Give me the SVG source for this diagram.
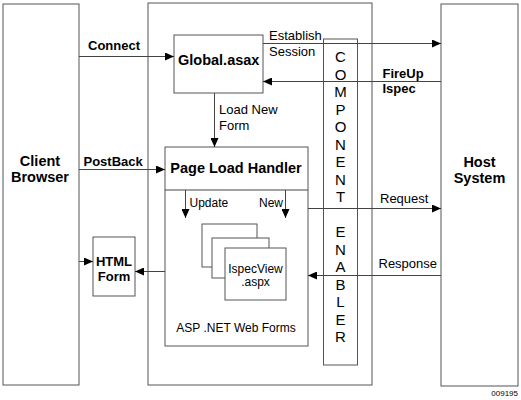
<svg xmlns="http://www.w3.org/2000/svg" width="521" height="400" viewBox="0 0 521 400">
<defs>
<style>
.box{fill:#fff;stroke:#555;stroke-width:1}
.ln{fill:none;stroke:#444;stroke-width:1}
.b{font-family:"Liberation Sans",Arial,sans-serif;font-weight:bold;font-size:13px;fill:#000}
.bl{font-family:"Liberation Sans",Arial,sans-serif;font-weight:bold;font-size:14.5px;fill:#000}
.r{font-family:"Liberation Sans",Arial,sans-serif;font-size:13px;fill:#000}
.s{font-family:"Liberation Sans",Arial,sans-serif;font-size:12px;fill:#000}
.v{font-family:"Liberation Sans",Arial,sans-serif;font-size:15px;fill:#000;text-anchor:middle}
.m{text-anchor:middle}
</style>
<marker id="ah" markerWidth="9" markerHeight="8" refX="9" refY="4" orient="auto" markerUnits="userSpaceOnUse">
<path d="M0,0 L9,4 L0,8 Z" fill="#000"/>
</marker>
</defs>
<rect width="521" height="400" fill="#fff"/>

<g id="client">
<rect class="box" x="3" y="4" width="76" height="381"/>
<text class="bl m" x="40" y="166">Client</text>
<text class="bl m" x="40" y="182">Browser</text>
</g>

<g id="server">
<rect class="box" x="148" y="3" width="224" height="382"/>
</g>

<g id="host">
<rect class="box" x="441" y="4" width="77" height="382"/>
<text class="bl m" x="479.5" y="166.5">Host</text>
<text class="bl m" x="479.5" y="182.5">System</text>
</g>

<g id="global">
<rect class="box" x="174" y="35" width="89" height="58"/>
<text class="bl" x="178" y="65">Global.asax</text>
</g>

<g id="enabler">
<rect class="box" x="323.5" y="39" width="34" height="326"/>
<text class="v" x="340.5" y="62">C</text>
<text class="v" x="340.5" y="79.5">O</text>
<text class="v" x="340.5" y="97">M</text>
<text class="v" x="340.5" y="114.5">P</text>
<text class="v" x="340.5" y="132">O</text>
<text class="v" x="340.5" y="149.5">N</text>
<text class="v" x="340.5" y="167">E</text>
<text class="v" x="340.5" y="184.5">N</text>
<text class="v" x="340.5" y="202">T</text>
<text class="v" x="340.5" y="237">E</text>
<text class="v" x="340.5" y="254.5">N</text>
<text class="v" x="340.5" y="272">A</text>
<text class="v" x="340.5" y="289.5">B</text>
<text class="v" x="340.5" y="307">L</text>
<text class="v" x="340.5" y="324.5">E</text>
<text class="v" x="340.5" y="342">R</text>
</g>

<g id="pageload">
<rect class="box" x="165" y="147" width="143" height="199"/>
<line class="ln" x1="165" y1="190" x2="308" y2="190"/>
<text class="bl m" x="236" y="172.5">Page Load Handler</text>
<text class="s" x="189.5" y="207">Update</text>
<text class="s" x="283" y="207" text-anchor="end">New</text>
<text class="s m" x="236" y="331.5">ASP .NET Web Forms</text>
</g>

<g id="ispecview">
<rect class="box" x="202" y="224" width="55" height="43"/>
<rect class="box" x="212" y="238" width="57" height="40"/>
<rect class="box" x="225" y="248" width="61" height="52"/>
<text class="s m" x="255.5" y="272.5">IspecView</text>
<text class="s m" x="255.5" y="286">.aspx</text>
</g>

<g id="htmlform">
<rect class="box" x="93" y="237" width="42" height="59"/>
<text class="b m" x="114" y="266">HTML</text>
<text class="b m" x="114" y="281">Form</text>
</g>

<g id="connectors">
<line class="ln" x1="79" y1="56.5" x2="174" y2="56.5" marker-end="url(#ah)"/>
<line class="ln" x1="79" y1="169.5" x2="165" y2="169.5" marker-end="url(#ah)"/>
<line class="ln" x1="214.5" y1="93" x2="214.5" y2="147" marker-end="url(#ah)"/>
<line class="ln" x1="263" y1="43.5" x2="441" y2="43.5" marker-end="url(#ah)"/>
<line class="ln" x1="441" y1="81.5" x2="263" y2="81.5" marker-end="url(#ah)"/>
<line class="ln" x1="308" y1="208.5" x2="441" y2="208.5" marker-end="url(#ah)"/>
<line class="ln" x1="441" y1="275.5" x2="308" y2="275.5" marker-end="url(#ah)"/>
<line class="ln" x1="165" y1="271.5" x2="135" y2="271.5" marker-end="url(#ah)"/>
<line class="ln" x1="79" y1="261.5" x2="93" y2="261.5" marker-end="url(#ah)"/>
<line class="ln" x1="185.5" y1="190" x2="185.5" y2="218" marker-end="url(#ah)"/>
<line class="ln" x1="285.5" y1="190" x2="285.5" y2="218" marker-end="url(#ah)"/>
</g>

<g id="labels">
<text class="b" x="88" y="50">Connect</text>
<text class="b" x="83.5" y="165.5">PostBack</text>
<text class="r" x="219" y="113.5">Load New</text>
<text class="r" x="219" y="129.5">Form</text>
<text class="r" x="269" y="39.5">Establish</text>
<text class="r" x="269" y="55.5">Session</text>
<text class="b" x="382.5" y="77.5">FireUp</text>
<text class="b" x="382.5" y="92.5">Ispec</text>
<text class="r" x="380" y="203">Request</text>
<text class="r" x="378.5" y="268">Response</text>
<text x="518" y="396" font-family="Liberation Sans,Arial,sans-serif" font-size="8" text-anchor="end">009195</text>
</g>
</svg>
